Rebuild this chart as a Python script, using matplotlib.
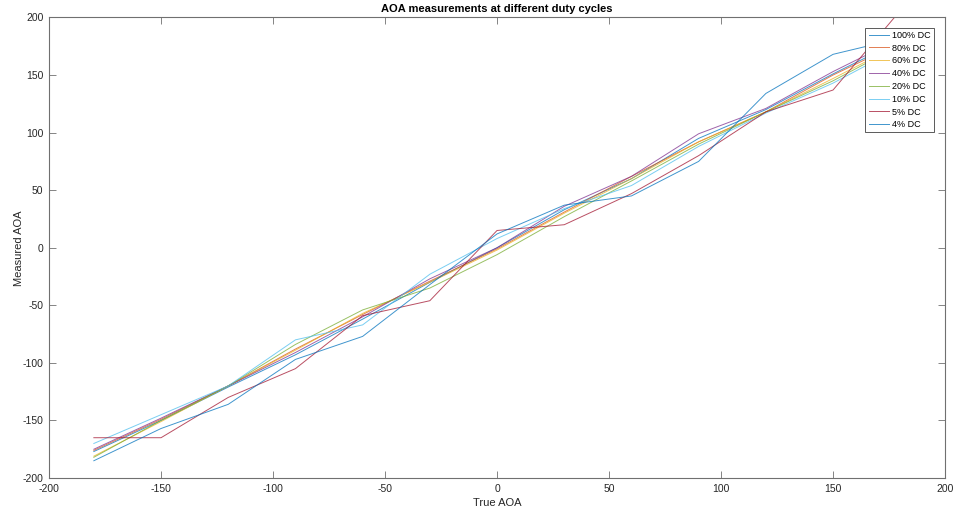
import numpy as np
import matplotlib
matplotlib.use('Agg')
import matplotlib.pyplot as plt

plt.rcParams['font.family'] = ['Liberation Sans', 'DejaVu Sans']
plt.rcParams['axes.unicode_minus'] = False

# true angle of arrival (deg)
true_aoa = [-180, -150, -120, -90, -60, -30, 0, 30, 60, 90, 120, 150, 180]

# measured angle per duty cycle (deg)
dc100 = [-177, -150, -121, -93, -62, -30, 0, 33, 60, 95, 120, 151, 180]
dc80 = [-176, -149, -120, -88, -58, -29, -1, 31, 62, 92, 118, 150, 178]
dc60 = [-181, -151, -120, -89, -57, -30, -2, 30, 60, 92, 118, 147, 177]
dc40 = [-175, -148, -120, -91, -60, -27, 0, 36, 62, 99, 121, 153, 182]
dc20 = [-182, -150, -120, -84, -54, -35, -6, 27, 58, 90, 118, 145, 176]
dc10 = [-170, -145, -120, -80, -67, -23, 8, 34, 54, 88, 117, 143, 174]
dc5 = [-165, -165, -130, -105, -59, -46, 15, 20, 47, 80, 118, 137, 206]
dc4 = [-185, -157, -136, -97, -77, -32, 12, 37, 45, 75, 134, 168, 182]

labels = ['100% DC', '80% DC', '60% DC', '40% DC', '20% DC', '10% DC', '5% DC', '4% DC']
series = [dc100, dc80, dc60, dc40, dc20, dc10, dc5, dc4]

# matlab default colour order (wraps after 7)
colors = ['#0072BD', '#D95319', '#EDB120', '#7E2F8E', '#77AC30', '#4DBEEE', '#A2142F', '#0072BD']

fig = plt.figure(figsize=(9.54, 5.13), dpi=100)
ax = fig.add_axes([0.0514, 0.0682, 0.9392, 0.8977])

for y, lab, c in zip(series, labels, colors):
    ax.plot(true_aoa, y, color=c, lw=0.7, alpha=0.75, label=lab)

ax.set_xlim(-200, 200)
ax.set_ylim(-200, 200)
ax.set_xticks(np.arange(-200, 201, 50))
ax.set_yticks(np.arange(-200, 201, 50))

grey = '#262626'
for s in ax.spines.values():
    s.set_color('#707070')
    s.set_linewidth(0.8)
ax.tick_params(direction='in', length=5, width=0.6, color='#707070',
               top=True, right=True, labelsize=7.5, labelcolor=grey, pad=4)

ax.set_title('AOA measurements at different duty cycles', fontsize=8,
             fontweight='bold', color='black', pad=4)
ax.set_xlabel('True AOA', fontsize=8, color=grey, labelpad=3)
ax.set_ylabel('Measured AOA', fontsize=8, color=grey, labelpad=-1)

leg = ax.legend(loc='upper right', bbox_to_anchor=(0.988, 0.978), borderaxespad=0,
                fontsize=6.5, frameon=True, fancybox=False, handlelength=2.3,
                handletextpad=0.35, labelspacing=0.42, borderpad=0.35)
leg.get_frame().set_edgecolor('#404040')
leg.get_frame().set_linewidth(0.6)
leg.get_frame().set_alpha(1)

fig.savefig('out.png', dpi=100)
